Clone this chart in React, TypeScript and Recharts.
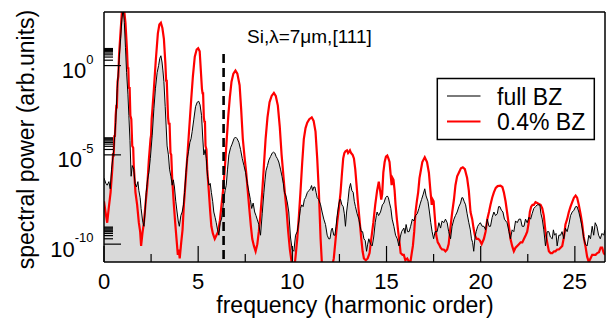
import React from 'react';
import { ComposedChart, Area, Line, XAxis, YAxis, ReferenceLine } from 'recharts';

const FONT = '"Liberation Sans", Arial, Helvetica, sans-serif';

// [harmonic order, log10(spectral power)]
const fullBZ: [number, number][] = [
  [0.0, -6.3], [0.1, -6.6], [0.17, -6.7], [0.26, -6.5], [0.33, -6.9], [0.4, -5.8], [0.52, -4.7], [0.62, -3.2],
  [0.7, -1.3], [0.8, 0.3], [0.88, 1.5], [0.95, 2.6], [1.02, 3.2], [1.08, 2.4], [1.14, 1.0], [1.2, -0.4],
  [1.27, -1.6], [1.32, -2.8], [1.38, -4.2], [1.44, -6.2], [1.5, -5.6], [1.58, -5.8], [1.65, -6.6], [1.72, -6.8],
  [1.8, -6.5], [1.85, -7.0], [1.92, -7.4], [1.97, -8.0], [2.05, -8.7], [2.12, -9.0], [2.18, -8.2], [2.24, -7.1],
  [2.31, -6.4], [2.38, -6.0], [2.46, -5.2], [2.56, -3.9], [2.65, -2.4], [2.73, -1.3], [2.82, -0.4], [2.9, 0.0],
  [2.96, 0.4], [3.02, 0.55], [3.08, 0.2], [3.13, -0.3], [3.18, -0.9], [3.25, -2.3], [3.35, -4.5], [3.42, -5.0],
  [3.48, -5.8], [3.55, -6.2], [3.62, -6.7], [3.68, -6.4], [3.74, -6.8], [3.81, -7.6], [3.88, -8.2], [3.94, -8.7],
  [4.0, -9.0], [4.08, -8.4], [4.15, -8.2], [4.22, -7.8], [4.28, -7.1], [4.35, -6.0], [4.42, -5.2], [4.49, -4.8],
  [4.56, -4.3], [4.62, -4.1], [4.68, -3.7], [4.77, -3.0], [4.86, -2.3], [4.95, -2.05], [5.03, -2.0], [5.1, -2.2],
  [5.18, -2.8], [5.24, -4.0], [5.3, -5.0], [5.37, -4.7], [5.43, -5.2], [5.5, -6.2], [5.57, -6.7], [5.64, -6.6],
  [5.7, -7.1], [5.77, -7.6], [5.83, -8.2], [5.9, -8.5], [5.96, -8.8], [6.03, -9.2], [6.1, -9.5], [6.17, -8.8],
  [6.24, -8.6], [6.3, -8.1], [6.36, -7.5], [6.43, -7.0], [6.49, -6.7], [6.56, -5.8], [6.63, -5.0], [6.72, -4.6],
  [6.8, -4.4], [6.9, -4.1], [6.98, -4.0], [7.07, -4.1], [7.16, -4.3], [7.25, -4.7], [7.34, -5.2], [7.43, -5.6],
  [7.52, -6.0], [7.61, -6.6], [7.7, -7.1], [7.77, -7.5], [7.84, -8.0], [7.92, -7.7], [8.0, -8.2], [8.07, -8.4],
  [8.13, -8.6], [8.22, -8.9], [8.31, -9.5], [8.4, -8.3], [8.49, -7.1], [8.55, -6.4], [8.6, -5.9], [8.68, -5.6],
  [8.75, -5.3], [8.84, -5.1], [8.93, -4.9], [9.0, -4.85], [9.07, -4.9], [9.14, -5.1], [9.2, -5.2], [9.28, -5.4],
  [9.37, -5.8], [9.45, -6.2], [9.52, -6.6], [9.58, -7.1], [9.66, -7.3], [9.74, -7.7], [9.81, -8.2], [9.9, -9.6],
  [9.99, -10.3], [10.08, -10.4], [10.17, -9.5], [10.26, -9.3], [10.35, -8.7], [10.43, -8.0], [10.5, -7.8], [10.57, -7.9],
  [10.64, -7.5], [10.7, -7.4], [10.8, -7.1], [10.88, -7.0], [10.96, -6.9], [11.02, -6.72], [11.08, -7.0], [11.14, -6.8],
  [11.2, -6.8], [11.26, -7.1], [11.32, -7.4], [11.4, -7.5], [11.5, -7.8], [11.58, -8.2], [11.67, -8.6], [11.76, -8.9],
  [11.85, -9.5], [11.93, -9.7], [12.0, -9.7], [12.07, -9.2], [12.12, -9.1], [12.2, -9.5], [12.26, -9.5], [12.32, -9.0],
  [12.38, -8.4], [12.46, -7.8], [12.52, -7.5], [12.56, -7.5], [12.63, -7.8], [12.7, -7.9], [12.76, -8.3], [12.82, -9.0],
  [12.88, -8.2], [12.95, -7.6], [13.02, -6.9], [13.09, -6.6], [13.16, -7.0], [13.23, -7.1], [13.29, -7.6], [13.35, -7.9],
  [13.44, -8.3], [13.53, -8.6], [13.6, -9.0], [13.66, -9.3], [13.73, -9.3], [13.8, -9.7], [13.87, -9.8], [13.94, -10.4],
  [14.0, -10.0], [14.06, -9.7], [14.15, -10.0], [14.24, -10.1], [14.32, -9.6], [14.4, -8.8], [14.46, -8.4], [14.5, -8.2],
  [14.58, -8.4], [14.68, -8.2], [14.78, -7.8], [14.86, -7.7], [14.95, -7.4], [15.04, -7.3], [15.1, -7.4], [15.16, -7.7],
  [15.23, -8.0], [15.3, -8.6], [15.39, -9.0], [15.48, -9.5], [15.57, -9.7], [15.66, -10.1], [15.73, -9.6], [15.8, -9.3],
  [15.86, -9.2], [15.92, -9.1], [15.98, -9.4], [16.04, -8.9], [16.12, -9.3], [16.2, -9.3], [16.28, -9.0], [16.37, -8.6],
  [16.45, -8.7], [16.54, -8.4], [16.63, -8.3], [16.72, -8.0], [16.8, -7.7], [16.86, -7.5], [16.95, -7.2], [17.03, -6.9],
  [17.1, -7.3], [17.2, -7.6], [17.28, -8.2], [17.35, -8.8], [17.42, -9.3], [17.5, -9.7], [17.58, -9.3], [17.69, -9.3],
  [17.78, -8.8], [17.87, -9.1], [17.95, -8.7], [18.04, -8.8], [18.13, -8.6], [18.22, -8.8], [18.3, -9.3], [18.4, -9.7],
  [18.48, -9.0], [18.58, -8.6], [18.66, -8.4], [18.75, -8.2], [18.84, -7.9], [18.93, -7.7], [19.0, -7.4], [19.05, -7.4],
  [19.12, -7.6], [19.2, -7.8], [19.28, -8.3], [19.37, -8.8], [19.45, -9.2], [19.51, -9.7], [19.57, -9.9], [19.63, -10.4],
  [19.7, -9.6], [19.76, -9.3], [19.84, -9.0], [19.9, -8.9], [19.98, -8.8], [20.08, -9.0], [20.17, -9.0], [20.26, -9.2],
  [20.35, -8.6], [20.44, -9.0], [20.52, -9.0], [20.61, -8.5], [20.7, -8.2], [20.79, -8.4], [20.88, -8.3], [20.95, -7.9],
  [21.02, -7.9], [21.1, -8.1], [21.18, -8.2], [21.26, -8.6], [21.33, -8.7], [21.4, -8.8], [21.5, -9.3], [21.58, -9.7],
  [21.67, -9.2], [21.76, -9.3], [21.85, -8.7], [21.94, -8.8], [22.03, -8.6], [22.12, -8.6], [22.2, -9.0], [22.3, -9.0],
  [22.38, -8.6], [22.47, -8.8], [22.56, -8.5], [22.65, -8.6], [22.73, -8.3], [22.82, -8.0], [22.91, -7.9], [23.0, -7.8],
  [23.07, -7.8], [23.14, -7.8], [23.2, -8.3], [23.27, -8.6], [23.35, -9.2], [23.44, -10.1], [23.53, -9.3], [23.62, -9.3],
  [23.7, -9.6], [23.8, -9.7], [23.86, -9.2], [23.92, -9.5], [24.0, -9.4], [24.06, -10.1], [24.15, -9.5], [24.24, -9.5],
  [24.32, -9.3], [24.41, -9.7], [24.5, -9.1], [24.59, -9.3], [24.68, -8.9], [24.77, -8.4], [24.86, -8.2], [24.95, -8.1],
  [25.04, -7.9], [25.12, -7.9], [25.21, -8.2], [25.3, -8.6], [25.39, -9.1], [25.48, -9.7], [25.56, -10.0], [25.65, -10.1],
  [25.74, -9.5], [25.83, -9.7], [25.92, -9.0], [26.0, -9.5], [26.08, -8.8], [26.17, -9.0], [26.26, -9.5], [26.35, -9.7],
  [26.44, -9.4], [26.53, -9.5], [26.6, -9.2],
];

const bz04: [number, number][] = [
  [0.0, -7.6], [0.08, -8.2], [0.17, -8.8], [0.25, -8.0], [0.35, -7.1], [0.44, -5.8], [0.48, -4.9], [0.51, -5.1],
  [0.55, -3.9], [0.58, -4.0], [0.62, -2.8], [0.66, -2.2], [0.68, -2.4], [0.72, -0.9], [0.76, -0.6], [0.8, 0.6],
  [0.88, 1.9], [0.95, 3.0], [1.02, 3.5], [1.08, 3.0], [1.14, 2.4], [1.22, 0.9], [1.26, -0.2], [1.29, -0.1],
  [1.32, -1.3], [1.36, -1.2], [1.4, -2.8], [1.45, -3.0], [1.5, -4.5], [1.55, -4.6], [1.58, -5.6], [1.67, -7.1],
  [1.76, -7.8], [1.85, -8.8], [1.92, -9.3], [1.97, -10.1], [2.04, -9.4], [2.12, -8.8], [2.2, -7.8], [2.3, -6.7],
  [2.38, -5.3], [2.47, -4.1], [2.5, -3.9], [2.53, -3.0], [2.56, -2.6], [2.65, -1.3], [2.75, 0.3], [2.86, 1.8],
  [2.94, 2.3], [3.02, 2.4], [3.1, 2.1], [3.18, 1.5], [3.26, 0.1], [3.3, -0.9], [3.33, -0.8], [3.36, -1.7],
  [3.4, -2.9], [3.44, -3.3], [3.48, -3.2], [3.53, -4.9], [3.57, -5.0], [3.62, -6.3], [3.71, -7.8], [3.78, -8.8],
  [3.85, -9.7], [3.92, -10.6], [3.97, -10.3], [4.02, -10.8], [4.1, -9.9], [4.17, -9.2], [4.24, -7.8], [4.35, -6.2],
  [4.45, -4.7], [4.54, -3.3], [4.63, -1.9], [4.72, -0.6], [4.82, 0.5], [4.92, 0.9], [5.0, 0.97], [5.08, 0.8],
  [5.2, -1.3], [5.24, -1.6], [5.26, -1.5], [5.3, -2.9], [5.34, -3.2], [5.36, -3.1], [5.39, -4.5], [5.44, -4.7],
  [5.48, -5.8], [5.57, -7.1], [5.64, -8.2], [5.7, -9.0], [5.78, -9.4], [5.88, -9.7], [5.97, -9.5], [6.06, -9.3],
  [6.15, -8.7], [6.24, -7.8], [6.32, -7.0], [6.4, -6.0], [6.5, -4.4], [6.6, -2.8], [6.68, -1.8], [6.77, -0.9],
  [6.87, -0.45], [6.98, -0.28], [7.08, -0.45], [7.2, -1.1], [7.28, -2.4], [7.37, -4.1], [7.46, -5.1], [7.55, -6.0],
  [7.64, -7.1], [7.73, -8.2], [7.8, -9.0], [7.87, -9.7], [7.96, -10.1], [8.05, -10.4], [8.14, -10.0], [8.22, -9.3],
  [8.31, -8.3], [8.4, -7.1], [8.49, -5.6], [8.58, -4.1], [8.68, -2.9], [8.79, -2.05], [8.9, -1.7], [9.02, -1.53],
  [9.12, -1.7], [9.23, -2.24], [9.33, -3.4], [9.43, -5.0], [9.52, -6.1], [9.6, -7.1], [9.7, -8.2], [9.78, -9.3],
  [9.87, -10.3], [9.96, -11.0], [10.08, -11.6], [10.17, -10.7], [10.26, -9.7], [10.35, -8.4], [10.43, -7.1], [10.52, -5.5],
  [10.61, -4.1], [10.7, -3.5], [10.79, -3.2], [10.9, -3.0], [11.03, -2.9], [11.13, -3.1], [11.23, -3.7], [11.32, -5.2],
  [11.41, -7.1], [11.5, -9.7], [11.58, -11.3], [11.7, -11.8], [11.85, -11.6], [12.0, -11.5], [12.1, -11.3], [12.2, -10.8],
  [12.29, -9.8], [12.38, -8.8], [12.47, -8.0], [12.56, -7.1], [12.63, -6.1], [12.7, -5.2], [12.76, -4.9], [12.82, -4.8],
  [12.9, -4.75], [12.96, -4.9], [13.0, -4.85], [13.06, -4.75], [13.12, -4.9], [13.2, -5.0], [13.27, -5.2], [13.34, -5.8],
  [13.41, -6.7], [13.47, -7.5], [13.53, -8.2], [13.6, -9.0], [13.66, -9.7], [13.73, -10.4], [13.8, -10.8], [13.9, -10.9],
  [14.0, -10.8], [14.1, -10.5], [14.19, -9.7], [14.3, -8.8], [14.4, -7.8], [14.5, -7.0], [14.59, -6.5], [14.66, -7.0],
  [14.72, -7.5], [14.77, -7.2], [14.83, -6.0], [14.9, -5.4], [14.97, -5.1], [15.04, -5.04], [15.1, -5.2], [15.16, -5.4],
  [15.21, -6.0], [15.27, -6.7], [15.32, -6.3], [15.37, -6.4], [15.43, -7.0], [15.48, -7.8], [15.55, -8.6], [15.62, -9.3],
  [15.7, -10.0], [15.75, -10.5], [15.85, -10.6], [15.92, -10.6], [16.0, -10.9], [16.1, -10.8], [16.2, -11.0], [16.27, -11.0],
  [16.34, -10.5], [16.4, -10.1], [16.47, -9.3], [16.54, -8.2], [16.61, -7.6], [16.68, -7.1], [16.75, -6.3], [16.8, -6.0],
  [16.9, -5.4], [17.03, -5.13], [17.15, -5.4], [17.25, -6.0], [17.33, -7.0], [17.4, -7.8], [17.45, -7.5], [17.5, -7.6],
  [17.58, -8.7], [17.64, -9.5], [17.72, -9.9], [17.78, -10.0], [17.87, -10.2], [17.95, -10.3], [18.04, -10.3], [18.13, -10.4],
  [18.22, -10.3], [18.3, -10.0], [18.4, -9.0], [18.49, -8.2], [18.58, -7.5], [18.66, -6.7], [18.75, -6.2], [18.84, -6.0],
  [18.95, -5.75], [19.05, -5.7], [19.16, -5.8], [19.28, -6.3], [19.37, -7.0], [19.46, -8.2], [19.55, -8.6], [19.62, -9.1],
  [19.69, -9.5], [19.78, -9.7], [19.87, -9.7], [19.96, -9.8], [20.05, -10.0], [20.17, -9.7], [20.26, -9.3], [20.35, -8.6],
  [20.44, -8.2], [20.52, -7.8], [20.61, -7.4], [20.7, -7.1], [20.8, -6.85], [20.9, -6.75], [21.05, -6.72], [21.15, -6.8],
  [21.23, -7.1], [21.32, -7.6], [21.4, -8.2], [21.49, -8.9], [21.58, -9.7], [21.67, -10.1], [21.76, -10.4], [21.85, -10.2],
  [21.94, -10.1], [22.03, -10.0], [22.12, -9.9], [22.21, -9.9], [22.3, -9.7], [22.39, -9.5], [22.47, -9.3], [22.55, -8.8],
  [22.61, -8.2], [22.68, -7.9], [22.75, -7.8], [22.82, -7.8], [22.91, -7.65], [23.0, -7.7], [23.09, -7.75], [23.18, -7.8],
  [23.27, -8.0], [23.35, -8.4], [23.44, -9.3], [23.53, -9.9], [23.62, -10.4], [23.71, -10.5], [23.8, -10.5], [23.9, -10.4],
  [23.97, -10.4], [24.06, -10.3], [24.15, -10.3], [24.24, -10.2], [24.33, -10.1], [24.42, -9.6], [24.5, -8.9], [24.59, -8.6],
  [24.68, -8.2], [24.77, -7.9], [24.86, -7.65], [24.95, -7.4], [25.04, -7.28], [25.12, -7.4], [25.21, -7.8], [25.3, -8.3],
  [25.38, -8.8], [25.47, -9.6], [25.56, -10.1], [25.65, -10.7], [25.74, -11.0], [25.83, -10.8], [25.92, -10.6], [26.01, -10.6],
  [26.1, -10.6], [26.19, -10.5], [26.28, -10.45], [26.37, -10.2], [26.45, -10.2], [26.53, -10.5], [26.6, -10.6],
];

const xTicks = [0, 2.5, 5, 7.5, 10, 12.5, 15, 17.5, 20, 22.5, 25];
const xMajorStep = 5;
const yMajorExps = [-10, -5, 0];
const yMinorMults = [2, 3, 4, 5, 6, 7, 8, 9];
const xDomain: [number, number] = [0, 26.6];
const yDomain: [number, number] = [1e-11, 1e3];
const cutoffHarmonic = 6.35;
const cutoffTop = 4.5;
const annotation = 'Si,λ=7μm,[111]';
const legendItems = [
  { label: 'full BZ', color: '#7a7a7a', width: 2 },
  { label: '0.4% BZ', color: '#ff0000', width: 2.2 },
];
const xTitle = 'frequency (harmonic order)';
const yTitle = 'spectral power (arb.units)';

const yTicks: number[] = [];
yMajorExps.forEach((e) => {
  yTicks.push(Math.pow(10, e));
  yMinorMults.forEach((m) => yTicks.push(m * Math.pow(10, e)));
});

const fullData = fullBZ.map(([x, l]) => ({ x, y: Math.pow(10, l) }));
const bzData = bz04.map(([x, l]) => ({ x, y: Math.pow(10, l) }));

function YTick(props: any) {
  const { x, y, payload } = props;
  const lg = Math.log10(payload.value);
  const e = Math.round(lg);
  const isMajor = Math.abs(lg - e) < 1e-6;
  return (
    <g>
      <line x1={x} x2={x + (isMajor ? 17 : 9)} y1={y} y2={y} stroke="#000" strokeWidth={1.2} />
      {isMajor && (
        <text x={x - 10.5} y={y + 12.5} textAnchor="end" fontFamily={FONT} fill="#000">
          <tspan fontSize={22}>10</tspan>
          <tspan fontSize={13} dy={-14.5}>{String(e)}</tspan>
        </text>
      )}
    </g>
  );
}

function XTick(props: any) {
  const { x, y, payload } = props;
  const v = payload.value;
  const isMajor = v % xMajorStep === 0;
  return (
    <g>
      <line x1={x} x2={x} y1={y} y2={y - (isMajor ? 16 : 8)} stroke="#000" strokeWidth={1.2} />
      {isMajor && (
        <text x={x} y={y + 26.5} textAnchor="middle" fontFamily={FONT} fontSize={22} fill="#000">
          {v}
        </text>
      )}
    </g>
  );
}

function XTitle() {
  return (
    <text x={355} y={313} textAnchor="middle" fontFamily={FONT} fontSize={23} fill="#000">
      {xTitle}
    </text>
  );
}

function YTitle() {
  return (
    <text
      x={33.5}
      y={139.5}
      transform="rotate(-90 33.5 139.5)"
      textAnchor="middle"
      fontFamily={FONT}
      fontSize={23}
      fill="#000"
    >
      {yTitle}
    </text>
  );
}

export default function App() {
  return (
    <div style={{ position: 'fixed', left: 0, top: 0, width: 612, height: 324, background: '#fff' }}>
      <ComposedChart width={612} height={324} margin={{ top: 12, right: 7, left: 0, bottom: 0 }}>
        <Area
          data={fullData}
          dataKey="y"
          type="linear"
          fill="#d9d9d9"
          fillOpacity={1}
          stroke="none"
          baseValue="dataMin"
          isAnimationActive={false}
          dot={false}
          activeDot={false}
        />
        <Line
          data={bzData}
          dataKey="y"
          type="linear"
          stroke="#ff0000"
          strokeWidth={2.2}
          dot={false}
          activeDot={false}
          isAnimationActive={false}
        />
        <Line
          data={fullData}
          dataKey="y"
          type="linear"
          stroke="#000"
          strokeWidth={1}
          dot={false}
          activeDot={false}
          isAnimationActive={false}
        />
        <ReferenceLine
          segment={[
            { x: cutoffHarmonic, y: cutoffTop },
            { x: cutoffHarmonic, y: yDomain[0] },
          ]}
          stroke="#000"
          strokeWidth={2.6}
          strokeDasharray="9 5"
        />
        <ReferenceLine y={yDomain[1]} stroke="#000" strokeWidth={1.5} />
        <ReferenceLine x={xDomain[1]} stroke="#000" strokeWidth={1.5} />
        <XAxis
          dataKey="x"
          type="number"
          domain={xDomain}
          allowDataOverflow
          ticks={xTicks}
          interval={0}
          tickSize={0}
          tickMargin={0}
          tickLine={false}
          tick={<XTick />}
          axisLine={{ stroke: '#000', strokeWidth: 1.5 }}
          height={62}
          label={<XTitle />}
        />
        <YAxis
          type="number"
          scale="log"
          domain={yDomain}
          allowDataOverflow
          ticks={yTicks}
          interval={0}
          tickSize={0}
          tickMargin={0}
          tickLine={false}
          tick={<YTick />}
          axisLine={{ stroke: '#000', strokeWidth: 1.5 }}
          width={104}
          label={<YTitle />}
        />
      </ComposedChart>
      <svg
        width={612}
        height={324}
        style={{ position: 'absolute', left: 0, top: 0, pointerEvents: 'none' }}
      >
        <text x={247} y={43} fontFamily={FONT} fontSize={19} fill="#000">
          {annotation}
        </text>
        <rect x={437.3} y={78.5} width={157} height={61} fill="#fff" stroke="#000" strokeWidth={1.5} />
        {legendItems.map((it, i) => (
          <g key={it.label}>
            <line
              x1={447}
              x2={480.5}
              y1={96 + i * 25.5}
              y2={96 + i * 25.5}
              stroke={it.color}
              strokeWidth={it.width}
            />
            <text x={497} y={105 + i * 25} fontFamily={FONT} fontSize={23} fill="#000">
              {it.label}
            </text>
          </g>
        ))}
      </svg>
    </div>
  );
}
